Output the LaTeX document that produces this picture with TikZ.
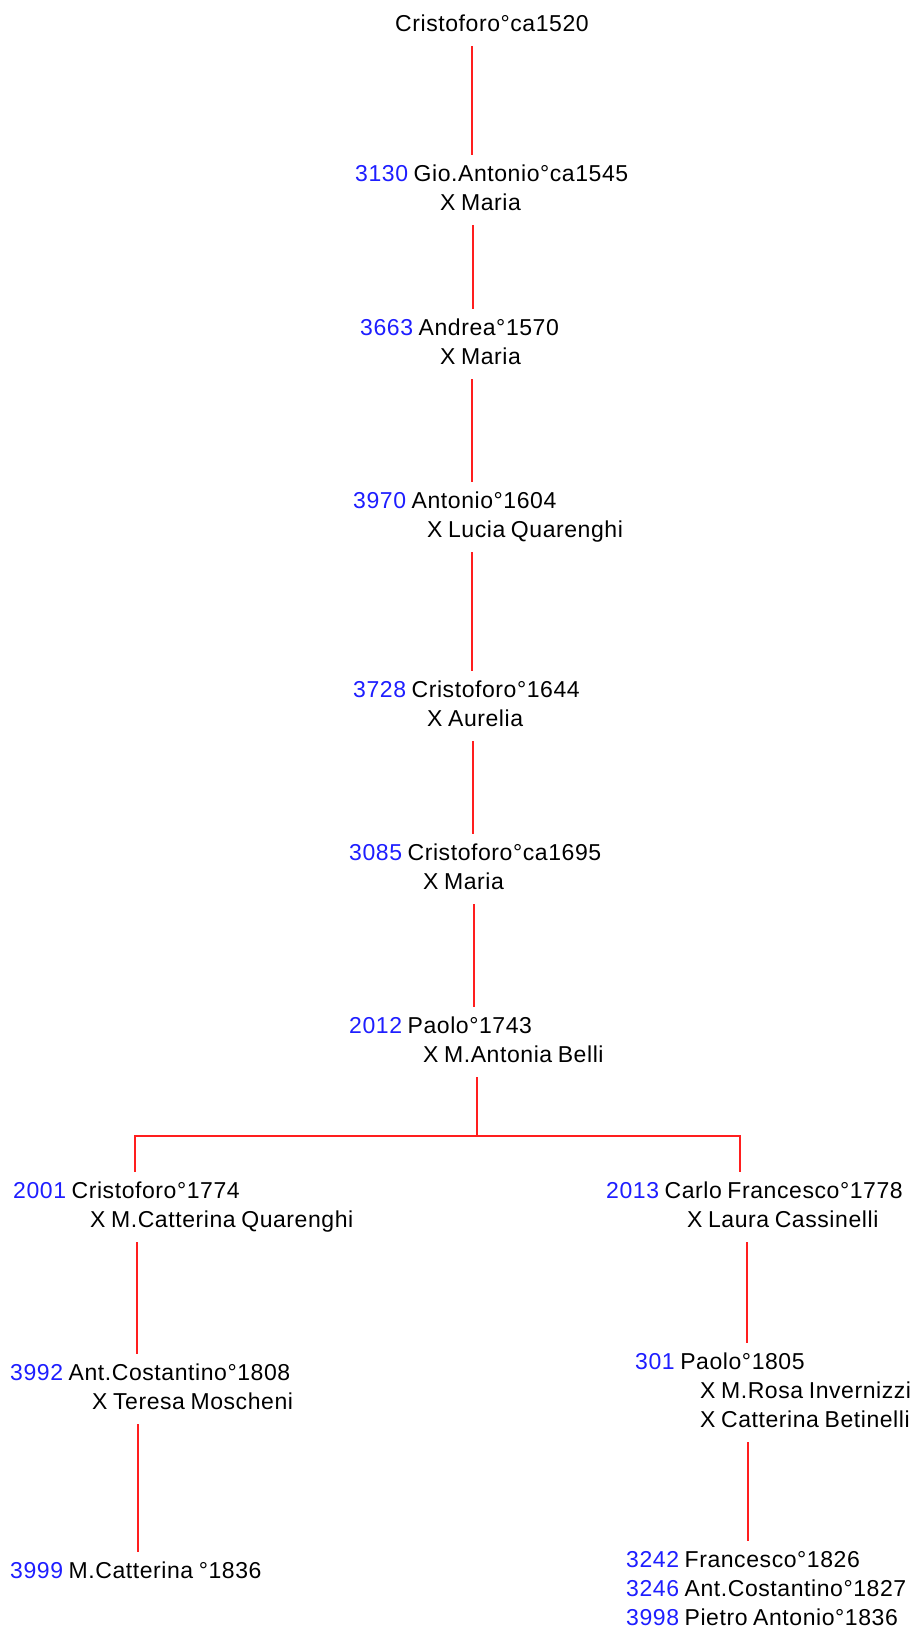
\documentclass[tikz,border=0pt]{standalone}
\usepackage{fontspec}
\setmainfont{Liberation Sans}[LetterSpace=2.5, WordSpace=0.8]
\definecolor{idblue}{RGB}{30,30,255}
\definecolor{linkred}{RGB}{255,30,30}
\newcommand{\pid}[1]{{\color{idblue}#1}}
\newcommand{\spouse}[2]{\hspace*{#1pt}\strut X #2}
\tikzset{
  person/.style={anchor=north west, yshift=26.3pt, inner xsep=0pt, inner ysep=6pt,
    align=left, font=\fontsize{23}{29}\selectfont, text=black},
  link/.style={draw=linkred, line width=1.6pt}
}
\begin{document}
\begin{tikzpicture}[x=1pt, y=-1pt]
\path[use as bounding box, fill=white] (0,0) rectangle (912,1627);

% ancestors, one per generation
\node[person] (p0) at (395,31)  {\strut Cristoforo°ca1520};
\node[person] (p1) at (355,181) {\strut\pid{3130} Gio.Antonio°ca1545\\\spouse{85}{Maria}};
\node[person] (p2) at (360,335) {\strut\pid{3663} Andrea°1570\\\spouse{80}{Maria}};
\node[person] (p3) at (353,508) {\strut\pid{3970} Antonio°1604\\\spouse{74}{Lucia Quarenghi}};
\node[person] (p4) at (353,697) {\strut\pid{3728} Cristoforo°1644\\\spouse{74}{Aurelia}};
\node[person] (p5) at (349,860) {\strut\pid{3085} Cristoforo°ca1695\\\spouse{74}{Maria}};
\node[person] (p6) at (349,1033) {\strut\pid{2012} Paolo°1743\\\spouse{74}{M.Antonia Belli}};

% left branch
\node[person] (l1) at (13,1198) {\strut\pid{2001} Cristoforo°1774\\\spouse{77}{M.Catterina Quarenghi}};
\node[person] (l2) at (10,1380) {\strut\pid{3992} Ant.Costantino°1808\\\spouse{82}{Teresa Moscheni}};
\node[person] (l3) at (10,1578) {\strut\pid{3999} M.Catterina °1836};

% right branch
\node[person] (r1) at (606,1198) {\strut\pid{2013} Carlo Francesco°1778\\\spouse{81}{Laura Cassinelli}};
\node[person] (r2) at (635,1369) {\strut\pid{301} Paolo°1805\\\spouse{65}{M.Rosa Invernizzi}\\\spouse{65}{Catterina Betinelli}};
\node[person] (r3) at (626,1567) {\strut\pid{3242} Francesco°1826\\\strut\pid{3246} Ant.Costantino°1827\\\strut\pid{3998} Pietro Antonio°1836};

% stem positions of the connectors
\coordinate (s01) at (472,0);
\coordinate (s12) at (473,0);
\coordinate (s23) at (472,0);
\coordinate (s34) at (472,0);
\coordinate (s45) at (473,0);
\coordinate (s56) at (474,0);
\coordinate (fork) at (477,1136);
\coordinate (sl1) at (135,0);
\coordinate (sr1) at (740,0);
\coordinate (sl12) at (137,0);
\coordinate (sl23) at (138,0);
\coordinate (sr12) at (747,0);
\coordinate (sr23) at (748,0);

\draw[link] (p0.south -| s01) -- (p1.north -| s01);
\draw[link] (p1.south -| s12) -- (p2.north -| s12);
\draw[link] (p2.south -| s23) -- (p3.north -| s23);
\draw[link] (p3.south -| s34) -- (p4.north -| s34);
\draw[link] (p4.south -| s45) -- (p5.north -| s45);
\draw[link] (p5.south -| s56) -- (p6.north -| s56);
\draw[link] (p6.south -| fork) -- (fork);
\draw[link] (l1.north -| sl1) |- (fork) -| (r1.north -| sr1);
\draw[link] (l1.south -| sl12) -- (l2.north -| sl12);
\draw[link] (l2.south -| sl23) -- (l3.north -| sl23);
\draw[link] (r1.south -| sr12) -- (r2.north -| sr12);
\draw[link] (r2.south -| sr23) -- (r3.north -| sr23);
\end{tikzpicture}
\end{document}
